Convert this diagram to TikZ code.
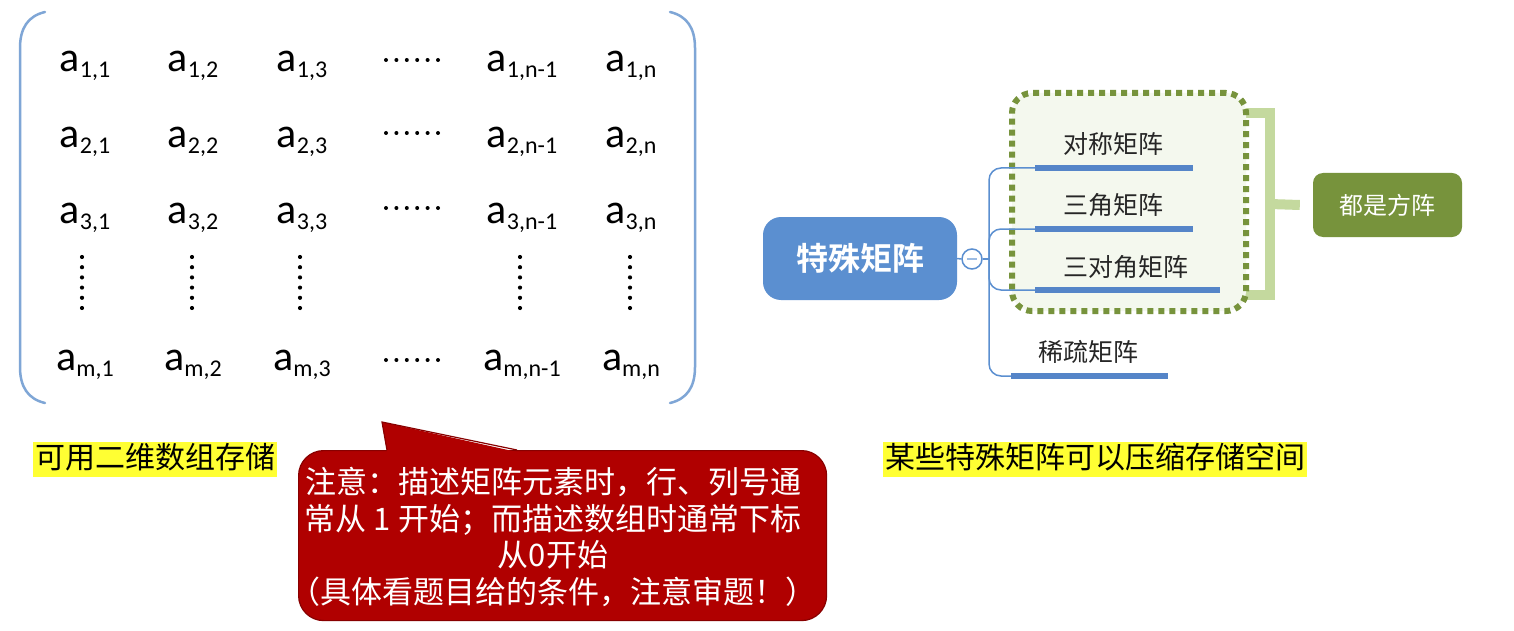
\documentclass[tikz,border=0pt]{standalone}
\usepackage{fontspec}
\setmainfont{Carlito}
\newfontfamily\cjk{Noto Sans CJK SC}[BoldFont={Noto Sans CJK SC Bold}]
\usetikzlibrary{calc}
\definecolor{brk}{HTML}{7FA6D6}
\definecolor{mmblue}{HTML}{5B8FD0}
\definecolor{ulblue}{HTML}{5585C8}
\definecolor{dgreen}{HTML}{77933C}
\definecolor{lgreen}{HTML}{C4D99E}
\definecolor{boxfill}{HTML}{F4F8EE}
\definecolor{calred}{HTML}{B00000}
\definecolor{calborder}{HTML}{880000}
\definecolor{hl}{HTML}{FFFF33}
\newcommand{\ent}[1]{a\raisebox{-6pt}{\fontsize{24}{24}\selectfont #1}}
\begin{document}
\begin{tikzpicture}[x=1pt,y=-1pt,
  el/.style={anchor=base, inner sep=0, font=\fontsize{42}{48}\selectfont},
  bracketline/.style={brk, line width=2.5pt, line cap=round},
  hilite/.style={fill=hl, inner xsep=2pt, inner ysep=2.5pt, text height=24pt, text depth=6pt, font=\cjk\fontsize{30}{36}\selectfont},
  calbody/.style={fill=calred, draw=calborder, line width=1.2pt, rounded corners=25pt, minimum width=528pt, minimum height=170pt, anchor=north west},
  caltext/.style={text=white, align=center, font=\cjk\fontsize{31}{36.5}\selectfont, inner sep=0},
  rootbox/.style={fill=mmblue, rounded corners=18pt, minimum width=194pt, minimum height=83pt, text=white, font=\cjk\bfseries\fontsize{32}{36}\selectfont},
  branch/.style={font=\cjk\fontsize{25}{30}\selectfont, text=black!85, inner sep=0},
  uline/.style={ulblue, line width=6pt},
  conn/.style={mmblue, line width=1.5pt, rounded corners=12pt},
  dotbox/.style={draw=dgreen, fill=boxfill, line width=6pt, dash pattern=on 6pt off 5pt, rounded corners=20pt, minimum width=234pt, minimum height=218pt},
  sqbox/.style={fill=dgreen, rounded corners=10pt, minimum width=149pt, minimum height=64pt, text=white, font=\cjk\fontsize{24}{28}\selectfont},
  lbr/.style={lgreen, line width=10pt}
]
\useasboundingbox (0,0) rectangle (1514,631);
\fill[white] (0,0) rectangle (1514,631);

% ---------- matrix brackets ----------
\draw[bracketline] (45,12) .. controls (28,16) and (20,28) .. (20,48) -- (20,367) .. controls (20,387) and (28,399) .. (45,403);
\draw[bracketline] (670,12) .. controls (687,16) and (695,28) .. (695,48) -- (695,367) .. controls (695,387) and (687,399) .. (670,403);

% ---------- matrix entries ----------
\foreach \r/\y in {1/72,2/148,3/223,m/370}{
  \node[el] (e\r1) at (85,\y) {\ent{\r,1}};
  \node[el] (e\r2) at (193,\y) {\ent{\r,2}};
  \node[el] (e\r3) at (302,\y) {\ent{\r,3}};
  \node[el] (e\r4) at (522,\y) {\ent{\r,n-1}};
  \node[el] (e\r5) at (631,\y) {\ent{\r,n}};
}
% horizontal dots
\foreach \y in {60,133,208,360}{
  \foreach \i in {0,...,5}{
    \fill (386+10.4*\i,\y) circle (2pt);
  }
}
% vertical dots
\foreach \x in {82,192,300,520,630}{
  \foreach \i in {0,...,5}{
    \fill (\x,257+10.2*\i) circle (2.1pt);
  }
}

% ---------- highlighted labels ----------
\node[hilite] (lab1) at (155,459.5) {可用二维数组存储};
\node[hilite] (lab2) at (1095,459.5) {某些特殊矩阵可以压缩存储空间};

% ---------- callout ----------
\node[calbody] (note) at (298,450) {};
\fill[calred] ($(note.north west)+(89,2)$) -- ($(note.north west)+(84,-28)$) -- ($(note.north west)+(219,2)$) -- cycle;
\draw[calborder, line width=1.2pt] ($(note.north west)+(89,0)$) -- ($(note.north west)+(84,-28)$) -- ($(note.north west)+(219,0)$);
\node[caltext] (notetext) at (553,537) {注意：描述矩阵元素时，行、列号通\\常从 1 开始；而描述数组时通常下标\\从0开始\\（具体看题目给的条件，注意审题！）};

% ---------- mind map ----------
\draw[lbr] (1238,113) -- (1270,113) -- (1270,295) -- (1238,295);
\node[sqbox] (sq) at (1387.5,205) {都是方阵};
\draw[lbr] (1270,204) -- ($(sq.west)+(-13,0)$);

\node[dotbox] (grp) at (1129,202) {};

\node[rootbox] (root) at (860,258.5) {特殊矩阵};
\node[circle, draw=mmblue, fill=white, line width=1.5pt, minimum size=20pt, inner sep=0] (col) at (972,259) {};
\draw[mmblue!60, line width=1.5pt] ($(col.center)+(-5,0)$) -- ($(col.center)+(5,0)$);
\draw[mmblue, line width=1.5pt] (root.east) -- (col.west);
\coordinate (hub) at (989,259);
\draw[mmblue, line width=1.5pt] (col.east) -- (hub);

\coordinate (u1s) at (1035,168); \coordinate (u1e) at (1193,168);
\coordinate (u2s) at (1035,229); \coordinate (u2e) at (1193,229);
\coordinate (u3s) at (1035,290); \coordinate (u3e) at (1220,290);
\coordinate (u4s) at (1011,376); \coordinate (u4e) at (1168,376);

\draw[conn] (hub) |- (u1s);
\draw[conn] (hub) |- (u2s);
\draw[conn] (hub) |- (u3s);
\draw[conn] (hub) |- (u4s);

\draw[uline] (u1s) -- (u1e);
\draw[uline] (u2s) -- (u2e);
\draw[uline] (u3s) -- (u3e);
\draw[uline] (u4s) -- (u4e);

\node[branch] (b1) at (1113,144) {对称矩阵};
\node[branch] (b2) at (1113,205) {三角矩阵};
\node[branch] (b3) at (1126,267) {三对角矩阵};
\node[branch] (b4) at (1088,352) {稀疏矩阵};
\end{tikzpicture}
\end{document}
